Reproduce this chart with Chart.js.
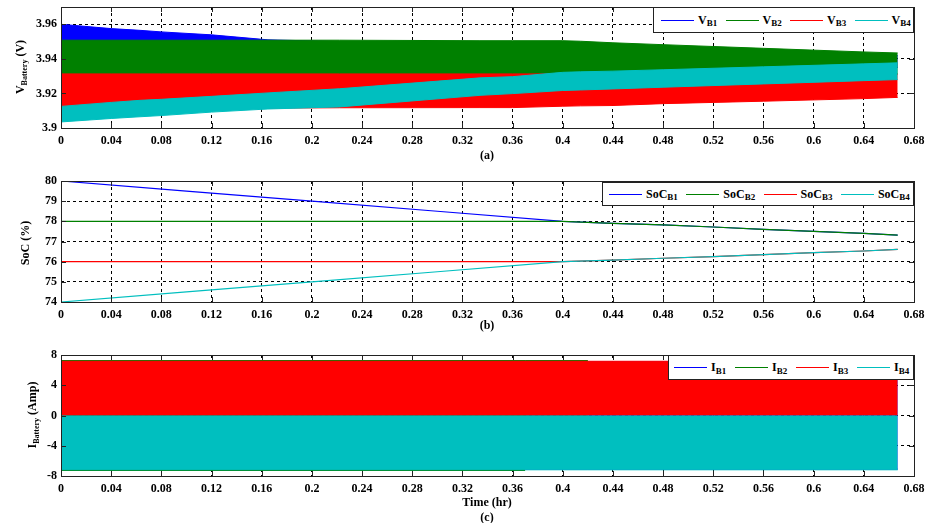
<!DOCTYPE html>
<html>
<head>
<meta charset="utf-8">
<script src="https://cdn.jsdelivr.net/npm/chart.js@4.4.1/dist/chart.umd.min.js"></script>
<style>
  body { margin: 0; background: #fff; width: 927px; height: 523px; overflow: hidden; position: relative;
         font-family: 'Liberation Serif', 'Times New Roman', serif; font-weight: bold; color: #000; }
  canvas { position: absolute; left: 0; }
  .lbl { position: absolute; font-size: 12px; transform: translate(-50%, -50%); white-space: nowrap; }
  .ytitle { position: absolute; font-size: 12px; white-space: nowrap; line-height: 14px;
            transform: translate(-50%, -50%) rotate(-90deg); }
  sub { font-size: 8px; vertical-align: baseline; position: relative; top: 3px; }
  .legend { position: absolute; background: #fff; border: 1px solid #222; box-sizing: border-box;
            display: flex; align-items: center; font-size: 12px; }
  .legend .it { flex: none; display: flex; align-items: center; }
  .legend .ln { display: inline-block; width: 33px; border-top: 1px solid; margin-right: 4px; }
  .legend sub { font-size: 9px; top: 3px; }
</style>
</head>
<body>
<canvas id="chartV" width="927" height="150" style="top:0"></canvas>
<canvas id="chartS" width="927" height="152" style="top:170px"></canvas>
<canvas id="chartI" width="927" height="156" style="top:340px"></canvas>

<div class="ytitle" style="left:21px;top:67px">V<sub>Battery</sub> (V)</div>
<div class="ytitle" style="left:25px;top:243px">SoC (%)</div>
<div class="ytitle" style="left:33px;top:415px">I<sub>Battery</sub> (Amp)</div>

<div class="lbl" style="left:487px;top:155px">(a)</div>
<div class="lbl" style="left:487px;top:325px">(b)</div>
<div class="lbl" style="left:487px;top:502px">Time (hr)</div>
<div class="lbl" style="left:487px;top:517px">(c)</div>

<div id="legV" class="legend" style="left:653px;top:7px;width:261px;height:26px;padding-left:7px"></div>
<div id="legS" class="legend" style="left:602px;top:182px;width:312px;height:24px;padding-left:6px"></div>
<div id="legI" class="legend" style="left:668px;top:355px;width:246px;height:25px;padding-left:5px"></div>

<script>
// axis ticks
const xTicks = [0, 0.04, 0.08, 0.12, 0.16, 0.2, 0.24, 0.28, 0.32, 0.36, 0.4, 0.44, 0.48, 0.52, 0.56, 0.6, 0.64, 0.68];
const vTicks = [3.9, 3.92, 3.94, 3.96];
const socTicks = [74, 75, 76, 77, 78, 79, 80];
const iTicks = [-8, -4, 0, 4, 8];

const colors = ['#0000ff', '#008000', '#ff0000', '#00bfbf'];

// (a) battery voltage envelopes (upper / lower of the ripple band)
const tV = [0, 0.04, 0.063, 0.08, 0.12, 0.165, 0.222, 0.334, 0.36, 0.4, 0.414, 0.44, 0.48, 0.56, 0.64, 0.667];
const vB1Hi = [3.960, 3.9575, 3.9565, 3.9556, 3.9539, 3.951, 3.950, 3.950, 3.950, 3.950, 3.9495, 3.948, 3.947, 3.945, 3.943, 3.942];
const vB1Lo = [3.935, 3.935, 3.935, 3.935, 3.935, 3.935, 3.935, 3.935, 3.935, 3.935, 3.935, 3.935, 3.935, 3.935, 3.935, 3.935];
const vB2Hi = [3.9508, 3.9508, 3.9508, 3.9508, 3.9508, 3.9508, 3.9508, 3.9505, 3.9505, 3.9505, 3.9502, 3.9493, 3.9482, 3.9461, 3.944, 3.9434];
const vB2Lo = [3.9313, 3.9313, 3.9313, 3.9313, 3.9313, 3.9313, 3.9313, 3.9313, 3.9313, 3.9313, 3.9313, 3.9313, 3.9313, 3.9313, 3.9313, 3.9313];
const vB3Hi = [3.9313, 3.9313, 3.9313, 3.9313, 3.9313, 3.9313, 3.9313, 3.9313, 3.9313, 3.9313, 3.928, 3.927, 3.927, 3.929, 3.930, 3.931];
const vB3Lo = [3.9117, 3.9117, 3.9117, 3.9117, 3.9117, 3.9115, 3.9117, 3.9118, 3.9118, 3.9126, 3.9128, 3.913, 3.9141, 3.9155, 3.917, 3.9177];
const vB4Hi = [3.9125, 3.9148, 3.916, 3.9166, 3.9183, 3.9203, 3.9227, 3.929, 3.9297, 3.9322, 3.9325, 3.9329, 3.9337, 3.9354, 3.9371, 3.9377];
const vB4Lo = [3.9035, 3.9055, 3.9065, 3.9072, 3.9092, 3.911, 3.9122, 3.9189, 3.9199, 3.9217, 3.922, 3.9226, 3.9236, 3.9255, 3.9274, 3.928];

// (b) state of charge
const tS = [0, 0.1, 0.2, 0.3, 0.4, 0.44, 0.48, 0.52, 0.56, 0.6, 0.64, 0.667];
const socB1 = [80, 79.5, 79, 78.5, 78, 77.9, 77.82, 77.72, 77.6, 77.5, 77.4, 77.32];
const socB2 = [78, 78, 78, 78, 78, 77.9, 77.82, 77.72, 77.6, 77.5, 77.4, 77.32];
const socB3 = [76, 76, 76, 76, 76, 76.08, 76.17, 76.25, 76.35, 76.45, 76.53, 76.61];
const socB4 = [74, 74.5, 75, 75.5, 76, 76.08, 76.17, 76.25, 76.35, 76.45, 76.53, 76.61];

// (c) battery current envelopes (filled to zero)
const tI = [0, 0.37, 0.42, 0.667];
const iB1Hi = [7.1, 7.1, 7.1, 7.1];
const iB1Lo = [-7.1, -7.1, -7.1, -7.1];
const iB2Hi = [7.27, 7.27, 7.27, null];
const iB2Lo = [-7.27, -7.27, null, null];
const iB3 = [7.17, 7.17, 7.17, 7.17];
const iB4 = [-7.18, -7.18, -7.18, -7.18];

const tickFont = { family: "'Liberation Serif', 'Times New Roman', serif", weight: 'bold', size: 12 };

const pts = (xs, ys) => xs.map((t, i) => ({ x: t, y: ys[i] }));

function band(xs, hi, lo, color, order) {
  return [
    { data: pts(xs, hi), borderColor: color, backgroundColor: color, borderWidth: 1, fill: '+1', order },
    { data: pts(xs, lo), borderColor: color, borderWidth: 1, fill: false, order }
  ];
}

function toZero(xs, ys, color, order) {
  return { data: pts(xs, ys), borderColor: color, backgroundColor: color, borderWidth: 1, fill: 'origin', order };
}

// MATLAB-like box with inward ticks on all sides
const boxTicks = {
  id: 'boxTicks',
  afterDraw(chart) {
    const { ctx, chartArea: a, scales: { x, y } } = chart;
    ctx.save();
    ctx.strokeStyle = '#222';
    ctx.lineWidth = 1;
    ctx.beginPath();
    x.ticks.forEach(t => {
      const px = Math.round(x.getPixelForValue(t.value)) + 0.5;
      ctx.moveTo(px, a.bottom); ctx.lineTo(px, a.bottom - 5);
      ctx.moveTo(px, a.top); ctx.lineTo(px, a.top + 5);
    });
    y.ticks.forEach(t => {
      const py = Math.round(y.getPixelForValue(t.value)) + 0.5;
      ctx.moveTo(a.left, py); ctx.lineTo(a.left + 5, py);
      ctx.moveTo(a.right, py); ctx.lineTo(a.right - 5, py);
    });
    ctx.stroke();
    ctx.strokeRect(Math.round(a.left) + 0.5, Math.round(a.top) + 0.5,
                   Math.round(a.right - a.left), Math.round(a.bottom - a.top));
    ctx.restore();
  }
};

function makeChart(id, datasets, yMin, yMax, yTicks, padTop, xAxisH) {
  return new Chart(document.getElementById(id), {
    type: 'line',
    data: { datasets },
    options: {
      animation: false,
      responsive: false,
      layout: { padding: { top: padTop, right: 13, left: 0, bottom: 0 } },
      plugins: { legend: { display: false }, tooltip: { enabled: false } },
      elements: { point: { radius: 0 }, line: { tension: 0 } },
      scales: {
        x: {
          type: 'linear', min: 0, max: 0.68,
          afterBuildTicks: s => { s.ticks = xTicks.map(v => ({ value: v })); },
          afterFit: s => { s.height = xAxisH; s.paddingLeft = 0; s.paddingRight = 0; },
          grid: { color: '#000', drawTicks: false },
          border: { display: false, dash: [3, 3] },
          ticks: { padding: 6, color: '#000', font: tickFont, maxRotation: 0, autoSkip: false,
                   callback: v => String(+v.toFixed(2)) }
        },
        y: {
          type: 'linear', min: yMin, max: yMax,
          afterBuildTicks: s => { s.ticks = yTicks.map(v => ({ value: v })); },
          afterFit: s => { s.width = 61; s.paddingTop = 0; s.paddingBottom = 0; },
          grid: { color: '#000', drawTicks: false },
          border: { display: false, dash: [3, 3] },
          ticks: { padding: 4, color: '#000', font: tickFont, autoSkip: false,
                   callback: v => String(+v.toFixed(2)) }
        }
      }
    },
    plugins: [boxTicks]
  });
}

// draw order: B4 on top, then B3, B2, B1 underneath
makeChart('chartV', [
  ...band(tV, vB1Hi, vB1Lo, colors[0], 4),
  ...band(tV, vB2Hi, vB2Lo, colors[1], 3),
  ...band(tV, vB3Hi, vB3Lo, colors[2], 2),
  ...band(tV, vB4Hi, vB4Lo, colors[3], 1)
], 3.9, 3.97, vTicks, 7, 22);

makeChart('chartS', [
  { data: pts(tS, socB1), borderColor: colors[0], borderWidth: 1.2, fill: false, order: 4 },
  { data: pts(tS, socB2), borderColor: colors[1], borderWidth: 1.2, fill: false, order: 3 },
  { data: pts(tS, socB3), borderColor: colors[2], borderWidth: 1.2, fill: false, order: 2 },
  { data: pts(tS, socB4), borderColor: colors[3], borderWidth: 1.2, fill: false, order: 1 }
], 74, 80, socTicks, 11, 20);

makeChart('chartI', [
  toZero(tI, iB1Hi, colors[0], 4), toZero(tI, iB1Lo, colors[0], 4),
  toZero(tI, iB2Hi, colors[1], 3), toZero(tI, iB2Lo, colors[1], 3),
  toZero(tI, iB3, colors[2], 2),
  toZero(tI, iB4, colors[3], 1)
], -8, 8, iTicks, 15, 20);

// legends with subscripts
function legend(id, main, itemW) {
  const el = document.getElementById(id);
  ['B1', 'B2', 'B3', 'B4'].forEach((b, i) => {
    el.innerHTML += '<div class="it" style="width:' + itemW + 'px"><span class="ln" style="border-color:' +
      colors[i] + '"></span>' + main + '<sub>' + b + '</sub></div>';
  });
}
legend('legV', 'V', 64.5);
legend('legS', 'SoC', 77.3);
legend('legI', 'I', 61);
</script>
</body>
</html>
